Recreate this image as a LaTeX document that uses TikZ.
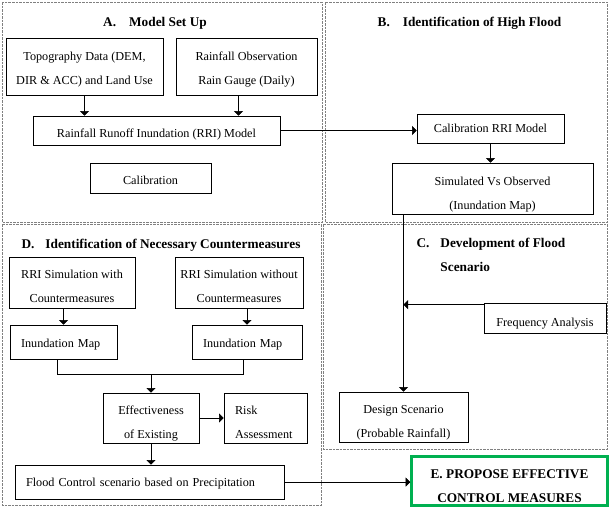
\documentclass[tikz,border=0pt]{standalone}
\usepackage{fontspec}
\setmainfont{Liberation Serif}
\usetikzlibrary{shapes,arrows,positioning}
\definecolor{boxgreen}{RGB}{0,176,80}

\begin{document}
\begin{tikzpicture}[x=1pt,y=-1pt]

  \tikzset{main node/.style={rectangle, draw, line width=0.6pt,
  		inner sep=0pt, align=center,
  		font=\fontsize{12.2}{24}\selectfont}, }
  \tikzset{left node/.style={main node, align=left, inner xsep=11pt}, }
  \tikzset{title node/.style={font=\fontsize{13.3}{24}\selectfont\bfseries}, }
  \tikzset{low/.style={text height=#1}, }
  \tikzset{panel/.style={draw=gray, dash pattern=on 2.5pt off 1pt, line width=0.8pt}, }
  \tikzset{linea/.style={-triangle 90, line width=0.6pt}, }

  \useasboundingbox (0,0) rectangle (609,507);
  % panels
  \draw[panel] (2,2) rectangle (322,222);
  \draw[panel] (325,2) rectangle (607,222);
  \draw[panel] (2,224) rectangle (321,505);
  \draw[panel] (323,224) rectangle (607,449);
  %
  \node[title node] (ta) at (155,23) {A.\hspace{13pt}Model Set Up};
  \node[title node] (tb) at (469.5,23) {B.\hspace{13pt}Identification of High Flood};
  \node[title node, align=left, anchor=west] (tc) at (413,255)
    {C.\hspace{11pt}Development of Flood\\\phantom{C.}\hspace{11pt}Scenario};
  \node[title node] (td) at (161,245) {D.\hspace{11pt}Identification of Necessary Countermeasures};
  %
  \node[main node, low=38.4pt, minimum width=157pt, minimum height=57pt] (topo) at (84.5,66.5)
    {Topography Data (DEM,\\DIR \& ACC) and Land Use};
  \node[main node, low=38.4pt, minimum width=141pt, minimum height=57pt] (rain) at (246.5,66.5)
    {Rainfall Observation\\Rain Gauge (Daily)};
  \node[main node, low=16.4pt, minimum width=247pt, minimum height=29pt] (rri) at (156.5,130.5)
    {Rainfall Runoff Inundation (RRI) Model};
  \node[main node, low=12.4pt, minimum width=121pt, minimum height=30pt] (calib) at (150.5,178) {Calibration};
  \node[main node, minimum width=147pt, minimum height=29pt] (calrri) at (490.5,128.5) {Calibration RRI Model};
  \node[main node, low=45.4pt, minimum width=201pt, minimum height=51pt] (sim) at (492.5,188.5)
    {Simulated Vs Observed\\(Inundation Map)};
  \node[main node, low=20.4pt, minimum width=122pt, minimum height=30pt] (freq) at (545,318) {Frequency Analysis};
  \node[main node, low=43.4pt, minimum width=129pt, minimum height=50pt] (design) at (403.5,417)
    {Design Scenario\\(Probable Rainfall)};
  \node[main node, title node, low=42.8pt, draw=boxgreen, line width=2.5pt,
    minimum width=196pt, minimum height=49pt] (prop) at (509.5,481)
    {E. PROPOSE EFFECTIVE\\CONTROL MEASURES};
  %
  \node[main node, low=39.4pt, minimum width=126pt, minimum height=51pt] (rriwith) at (72,282.5)
    {RRI Simulation with\\Countermeasures};
  \node[main node, low=39.4pt, minimum width=128pt, minimum height=51pt] (rriwithout) at (239,282.5)
    {RRI Simulation without\\Countermeasures};
  \node[left node, low=14.4pt, text width=85pt, minimum height=34pt] (inunl) at (63.5,342) {Inundation Map};
  \node[left node, low=14.4pt, text width=88pt, minimum height=34pt] (inunr) at (247,342) {Inundation Map};
  \node[main node, low=44.4pt, minimum width=96pt, minimum height=50pt] (eff) at (151,418)
    {Effectiveness\\of Existing};
  \node[left node, low=17.4pt, text width=61pt, minimum height=50pt] (risk) at (265.5,418) {Risk\\Assessment};
  \node[left node, low=12.4pt, text width=247pt, minimum height=34pt] (flood) at (149.5,482)
    {Flood Control scenario based on Precipitation};
  %
  \coordinate (mg) at (151,374);
  \coordinate (fq) at ([yshift=-2pt]freq.north west);
%
\foreach \x /\y in {topo/rri, calrri/sim, eff/flood}
  \draw[linea] (\x) -- (\x |- \y.north);
\foreach \x /\y in {rriwith/inunl, rriwithout/inunr, sim/design}
  \draw[linea] (\y.north |- \x.south) -- (\y.north);
  \draw[linea] ([xshift=-8pt]rain.south) -- ([xshift=-8pt]rain.south |- rri.north);
  \draw[linea] (rri.east) -- (rri.east -| calrri.west);
  \draw[linea] (fq) -- (fq -| design.north);
  \draw[line width=0.6pt] ([xshift=-6pt]inunl.south) |- (mg) -| ([xshift=-4pt]inunr.south);
  \draw[linea] (mg) -- (eff.north);
  \draw[linea] (eff.east) -- (risk.west);
  \draw[linea] (flood.east) -- (flood.east -| prop.west);
%
\end{tikzpicture}
\end{document}
